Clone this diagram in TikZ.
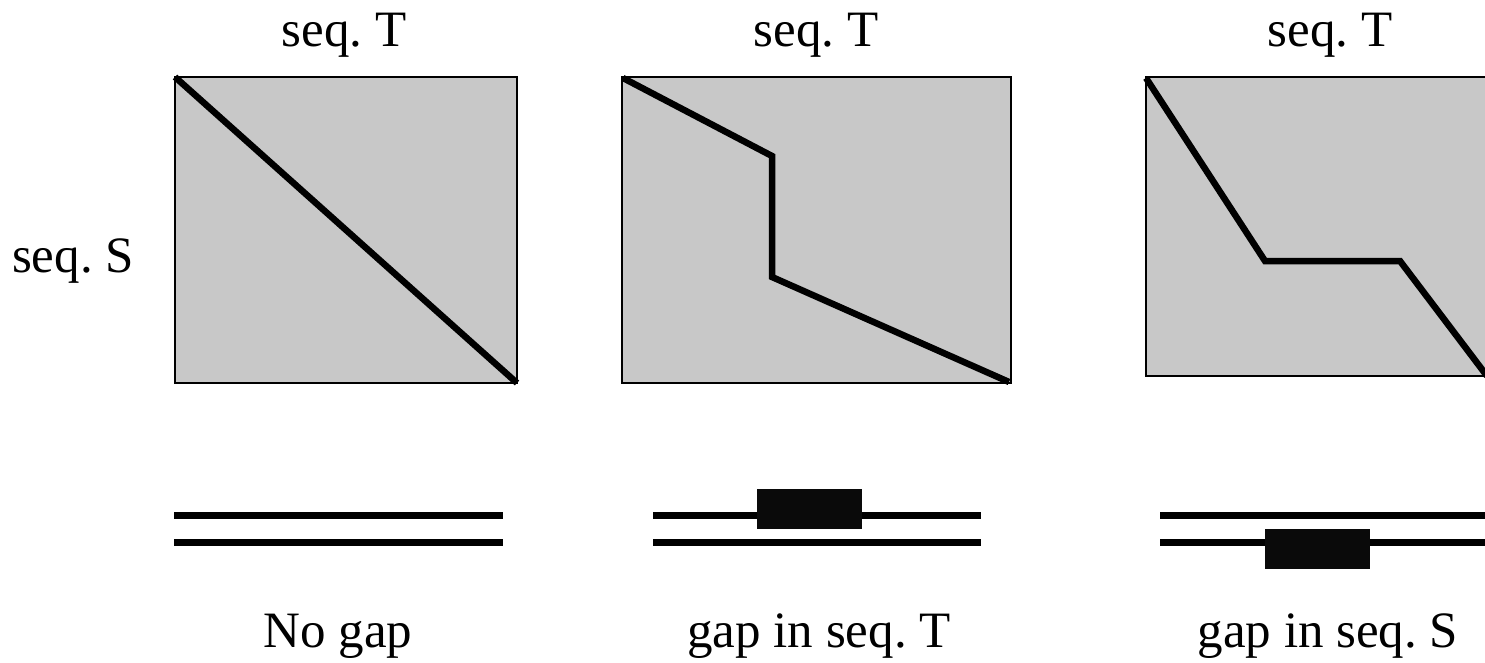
\documentclass[tikz,border=0pt]{standalone}
\usepackage{fontspec}
\setmainfont{Liberation Serif}
\definecolor{boxgray}{HTML}{C8C8C8}
\frenchspacing
\begin{document}
\begin{tikzpicture}[x=1pt,y=-1pt,
  lbl/.style={inner sep=0pt,anchor=base,font=\fontsize{51}{60}\selectfont},
  panel/.style={fill=boxgray,draw=black,line width=1.5pt},
  pathline/.style={line width=6.5pt,line join=miter},
  seqline/.style={line width=6.5pt},
  gapblock/.style={fill=black!96}]
\useasboundingbox (0,0) rectangle (1485,662);
\clip (0,0) rectangle (1485,662);
% labels
\node[lbl] (t1) at (344,46) {seq. T};
\node[lbl] (t2) at (816,46) {seq. T};
\node[lbl] (t3) at (1330,46) {seq. T};
\node[lbl] (s1) at (73,272) {seq. S};
\node[lbl] (b1) at (338,647) {No gap};
\node[lbl] (b2) at (819,647) {gap in seq. T};
\node[lbl] (b3) at (1328,647) {gap in seq. S};
% panel 1
\draw[panel] (175,77) rectangle (517,383);
\coordinate (p1a) at (175,77);
\coordinate (p1b) at (517,383);
\draw[pathline] (p1a) -- (p1b);
% panel 2
\draw[panel] (622,77) rectangle (1011,383);
\coordinate (p2a) at (623,78);
\coordinate (p2b) at (772,156);
\coordinate (p2c) at (772,277);
\coordinate (p2d) at (1009,382);
\draw[pathline] (p2a) -- (p2b) -- (p2c) -- (p2d);
% panel 3
\draw[panel] (1146,77) rectangle (1492,376);
\coordinate (p3a) at (1146,78);
\coordinate (p3b) at (1265,261);
\coordinate (p3c) at (1400,261);
\coordinate (p3d) at (1487,376);
\draw[pathline] (p3a) -- (p3b) -- (p3c) -- (p3d);
% sequences, panel 1
\coordinate (l1a) at (174,515.5);
\coordinate (l1b) at (503,515.5);
\coordinate (l1c) at (174,542.5);
\coordinate (l1d) at (503,542.5);
\draw[seqline] (l1a) -- (l1b);
\draw[seqline] (l1c) -- (l1d);
% sequences, panel 2
\coordinate (l2a) at (653,515.5);
\coordinate (l2b) at (981,515.5);
\coordinate (l2c) at (653,542.5);
\coordinate (l2d) at (981,542.5);
\draw[seqline] (l2a) -- (l2b);
\draw[seqline] (l2c) -- (l2d);
\fill[gapblock] (757,489) rectangle (862,529);
% sequences, panel 3
\coordinate (l3a) at (1160,515.5);
\coordinate (l3b) at (1490,515.5);
\coordinate (l3c) at (1160,542.5);
\coordinate (l3d) at (1490,542.5);
\draw[seqline] (l3a) -- (l3b);
\draw[seqline] (l3c) -- (l3d);
\fill[gapblock] (1265,529) rectangle (1370,569);
\end{tikzpicture}
\end{document}
